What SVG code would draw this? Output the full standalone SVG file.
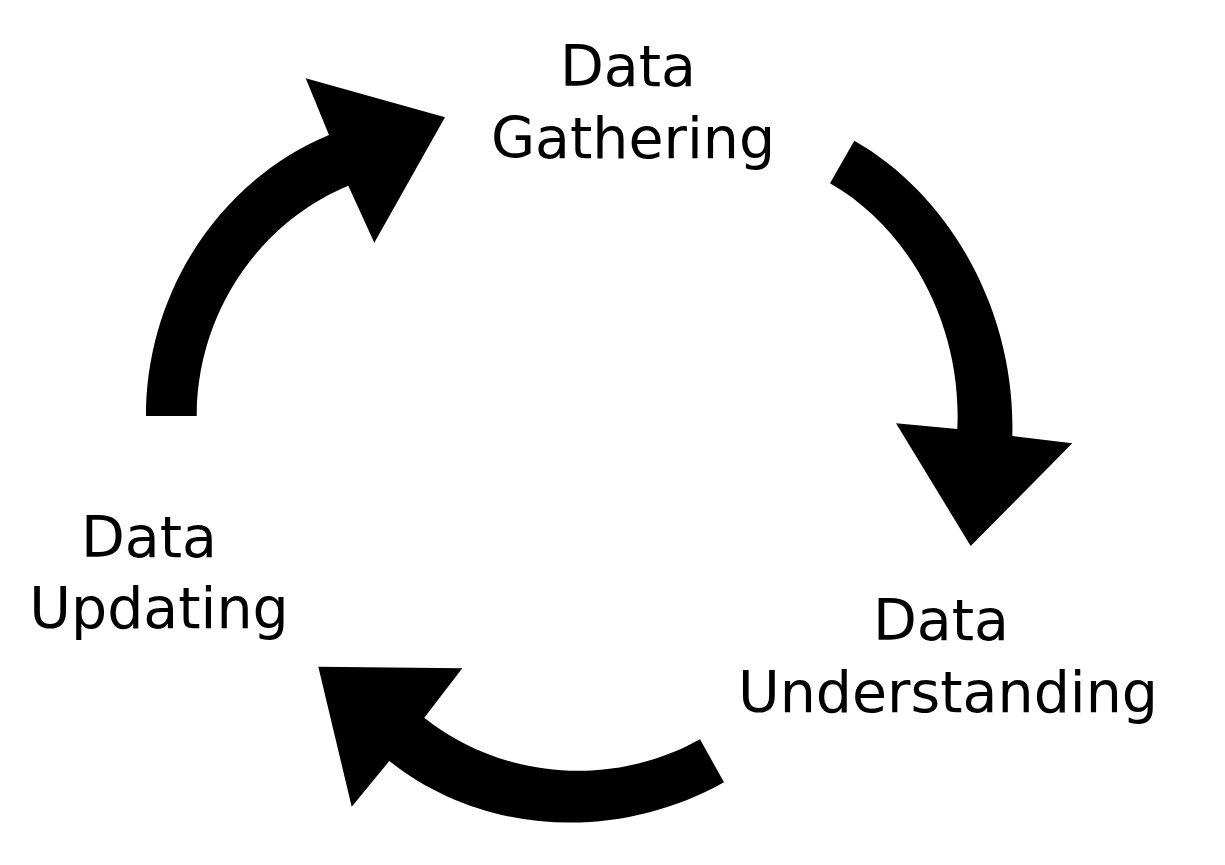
<svg xmlns="http://www.w3.org/2000/svg" width="1225" height="865" viewBox="0 0 1225 865">
<style>
.lbl{font-family:"DejaVu Sans",sans-serif;font-size:57px;fill:#000;text-anchor:middle}
.arr{fill:#000;stroke:none}
</style>
<rect width="1225" height="865" fill="#fff"/>
<g id="connectors">
<path id="arrow-updating-gathering" class="arr" d="M146,416 C146,293 219,180.5 329,135 L305.7,78.3 L445,117.3 L374.3,242.7 L348.3,185.7 C257.3,223.4 196.7,315.5 196.7,416 Z"/>
<path id="arrow-gathering-understanding" class="arr" d="M854.3,140.7 C952.8,196.9 1015.9,315 1012.3,436 L1072.3,443.3 L970.7,546 L896,423.3 L957.3,429 C962.3,328.1 911.4,229.8 830,183.3 Z"/>
<path id="arrow-understanding-updating" class="arr" d="M724,782.3 C615.5,843 481.6,834.5 389.3,761 L351.7,806.7 L318.3,666.7 L462.3,668.3 L424.3,717.7 C502.1,779.6 612.4,788.2 700,739.3 Z"/>
</g>
<g id="node-gathering">
<text class="lbl" x="628" y="86">Data</text>
<text class="lbl" x="633" y="158">Gathering</text>
</g>
<g id="node-understanding">
<text class="lbl" x="941" y="640">Data</text>
<text class="lbl" x="948" y="712">Understanding</text>
</g>
<g id="node-updating">
<text class="lbl" x="149" y="557">Data</text>
<text class="lbl" x="159" y="628">Updating</text>
</g>
</svg>
